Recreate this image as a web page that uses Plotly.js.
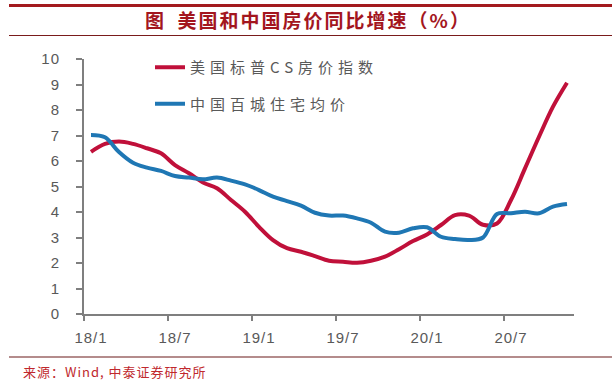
<!DOCTYPE html>
<html>
<head>
<meta charset="utf-8">
<script src="https://cdn.plot.ly/plotly-3.0.1.min.js"></script>
<style>
html,body{margin:0;padding:0;background:#fff;}
#chart{width:616px;height:382px;}
.legendtext{letter-spacing:5px;}
.gtitle{letter-spacing:2px;}
.ytick text,.xtick text{letter-spacing:1px;}
.annotation-text{letter-spacing:1px;}
</style>
</head>
<body>
<div id="chart"></div>
<script>
// ---- data ----
const months = ['2018-01','2018-02','2018-03','2018-04','2018-05','2018-06','2018-07','2018-08','2018-09','2018-10','2018-11','2018-12',
                '2019-01','2019-02','2019-03','2019-04','2019-05','2019-06','2019-07','2019-08','2019-09','2019-10','2019-11','2019-12',
                '2020-01','2020-02','2020-03','2020-04','2020-05','2020-06','2020-07','2020-08','2020-09','2020-10','2020-11'];
const usCS = [6.36,6.67,6.76,6.67,6.50,6.30,5.84,5.52,5.16,4.93,4.47,4.01,
              3.42,2.90,2.58,2.44,2.27,2.09,2.05,2.01,2.09,2.25,2.54,2.86,
              3.12,3.49,3.88,3.86,3.50,3.55,4.47,5.71,6.95,8.13,9.07];
const china100 = [7.02,6.93,6.35,5.93,5.74,5.61,5.41,5.35,5.28,5.35,5.23,5.08,
                  4.86,4.60,4.43,4.25,3.97,3.86,3.86,3.75,3.58,3.23,3.19,3.36,
                  3.40,3.03,2.94,2.90,3.00,3.92,3.95,4.01,3.95,4.21,4.31];
const tickLabels = ['18/1','18/7','19/1','19/7','20/1','20/7'];
const seriesNames = ['美国标普CS房价指数','中国百城住宅均价'];
const titleText = '图\u2002美国和中国房价同比增速（%）';
const sourceText = '来源：Wind, 中泰证券研究所';

// positions: month index, point plotted at middle of its month
const xs = months.map((m, i) => i + 0.5);
const tickPos = tickLabels.map((t, k) => k * 6);

// ---- layout helpers (pixel -> paper) ----
const W = 616, H = 382;
const M = {l: 84, r: 42, t: 59, b: 68};
const pw = W - M.l - M.r, ph = H - M.t - M.b;
const px = x => (x - M.l) / pw;
const py = y => (H - M.b - y) / ph;

const gray = '#7f7f7f';
const txt = '#595959';
const cjk = '"Noto Sans CJK SC", "Noto Sans", sans-serif';

const traces = [
  {x: xs, y: usCS, name: seriesNames[0], type: 'scatter', mode: 'lines',
   line: {color: '#c0103a', width: 4, shape: 'spline', smoothing: 1}, legendgroup: 'a'},
  {x: xs, y: china100, name: seriesNames[1], type: 'scatter', mode: 'lines',
   line: {color: '#1f77b4', width: 4, shape: 'spline', smoothing: 1}, legendgroup: 'b'}
];

const layout = {
  width: W, height: H,
  margin: M,
  paper_bgcolor: '#fff', plot_bgcolor: '#fff',
  font: {family: '"Liberation Sans", Arial, sans-serif', color: txt, size: 15},
  title: {text: titleText, x: 0.5, xref: 'container', xanchor: 'center',
          y: 1 - 21 / H, yref: 'container', yanchor: 'middle',
          font: {family: cjk, size: 19, color: '#a3161e', weight: 'bold'}},
  xaxis: {range: [0, 35], tickmode: 'array', tickvals: tickPos, ticktext: tickLabels,
          ticks: 'outside', ticklen: 5, tickwidth: 2, tickcolor: gray,
          showline: true, linecolor: gray, linewidth: 2, showgrid: false, zeroline: false,
          ticklabelshift: 7, ticklabelstandoff: 4,
          tickfont: {size: 15, color: txt}, fixedrange: true},
  yaxis: {range: [0, 10], dtick: 1, tick0: 0,
          ticks: 'outside', ticklen: 6, tickwidth: 2, tickcolor: gray,
          showline: true, linecolor: gray, linewidth: 2, showgrid: false, zeroline: false,
          ticklabelstandoff: 13,
          tickfont: {size: 15, color: txt}, fixedrange: true},
  showlegend: true,
  legend: {x: px(150), y: py(51), xanchor: 'left', yanchor: 'top',
           bgcolor: 'rgba(0,0,0,0)', borderwidth: 0,
           traceorder: 'grouped', tracegroupgap: 14,
           font: {family: cjk, size: 15, color: txt}},
  shapes: [
    {type: 'line', xref: 'paper', yref: 'paper', x0: px(9), x1: px(612), y0: py(5.5), y1: py(5.5),
     line: {color: '#a31a1e', width: 3}},
    {type: 'line', xref: 'paper', yref: 'paper', x0: px(9), x1: px(612), y0: py(35.5), y1: py(35.5),
     line: {color: '#7a1b1b', width: 1}},
    {type: 'line', xref: 'paper', yref: 'paper', x0: px(9), x1: px(612), y0: py(357), y1: py(357),
     line: {color: '#6b1a1a', width: 1.2}}
  ],
  annotations: [
    {text: sourceText, xref: 'paper', yref: 'paper', x: px(21), y: py(371),
     xanchor: 'left', yanchor: 'middle', showarrow: false,
     font: {family: cjk, size: 13, color: '#c0282d'}}
  ]
};

Plotly.newPlot('chart', traces, layout, {displayModeBar: false, staticPlot: true});
</script>
</body>
</html>
